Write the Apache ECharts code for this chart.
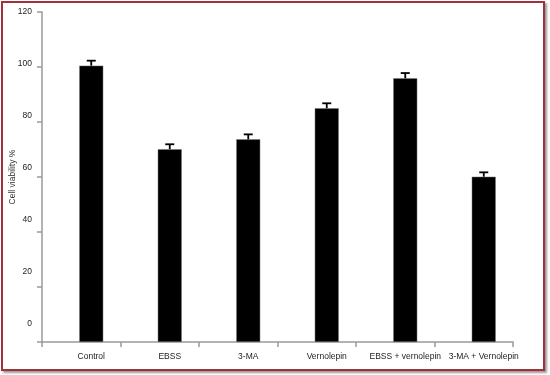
<!DOCTYPE html>
<html>
<head>
<meta charset="utf-8">
<script src="https://cdn.jsdelivr.net/npm/echarts@6/dist/echarts.min.js"></script>
<style>
html,body{margin:0;padding:0;background:#fff;}
#chart{position:absolute;left:0;top:0;width:550px;height:375px;}
#frame{position:absolute;left:1px;top:1px;width:540px;height:366px;border:2px solid #a0303a;box-shadow:2px 2px 2px #9a9a9a;pointer-events:none;}
</style>
</head>
<body>
<div id="chart"></div>
<div id="frame"></div>
<script>
const categories = ['Control', 'EBSS', '3-MA', 'Vernolepin', 'EBSS + vernolepin', '3-MA + Vernolepin'];
const viability = [100.5, 70.1, 73.7, 85.0, 95.9, 60.1];
const errors = [1.8, 1.8, 1.8, 1.8, 1.9, 1.6];
const yTickLabels = [0, 20, 40, 60, 80, 100, 120];
const yTitle = 'Cell viability %';

const chart = echarts.init(document.getElementById('chart'));
const font = 'Liberation Sans, Arial, sans-serif';
const axisGrey = '#9a9a9a';

chart.setOption({
  animation: false,
  grid: [
    {left: 52, right: 27, top: 12, bottom: 33},
    {left: 42, right: 37, top: 12, bottom: 33}
  ],
  xAxis: [
    {
      gridIndex: 0, type: 'category', data: categories,
      axisLine: {show: false}, axisTick: {show: false},
      axisLabel: {color: '#222', fontSize: 8.5, fontFamily: font, margin: 10, interval: 0}
    },
    {
      gridIndex: 1, type: 'category', data: categories.map(() => ''),
      axisLine: {show: true, lineStyle: {color: axisGrey, width: 1.5}},
      axisTick: {show: true, length: 5, lineStyle: {color: axisGrey, width: 1.5}},
      axisLabel: {show: false}
    }
  ],
  yAxis: [
    {
      gridIndex: 0, type: 'value', min: 0, max: 120, show: false
    },
    {
      gridIndex: 1, type: 'value', min: 0, max: 120, interval: 20,
      name: yTitle, nameLocation: 'middle', nameGap: 25,
      nameTextStyle: {color: '#333', fontSize: 8.5, fontFamily: font},
      axisLine: {show: true, lineStyle: {color: axisGrey, width: 1.5}},
      axisTick: {show: true, length: 5, lineStyle: {color: axisGrey, width: 1.5}},
      axisLabel: {show: false},
      splitLine: {show: false}
    },
    {
      gridIndex: 1, type: 'value', min: -6.9, max: 120, position: 'left',
      axisLine: {show: false}, axisTick: {show: false}, splitLine: {show: false},
      axisLabel: {color: '#222', fontSize: 8.5, fontFamily: font, margin: 10, customValues: yTickLabels}
    }
  ],
  series: [
    {
      type: 'bar', xAxisIndex: 0, yAxisIndex: 0,
      data: viability, barWidth: 24,
      itemStyle: {color: '#000', borderColor: '#777', borderWidth: 0.5}
    },
    {
      type: 'custom', xAxisIndex: 0, yAxisIndex: 0,
      data: viability.map((v, i) => [i, v, errors[i]]),
      renderItem: function (params, api) {
        const i = api.value(0), v = api.value(1), e = api.value(2);
        const p0 = api.coord([i, v]);
        const p1 = api.coord([i, v + e]);
        const hw = 4.5;
        const st = {stroke: '#000', lineWidth: 1.8};
        return {
          type: 'group',
          children: [
            {type: 'line', shape: {x1: p0[0], y1: p0[1], x2: p1[0], y2: p1[1]}, style: st},
            {type: 'line', shape: {x1: p1[0] - hw, y1: p1[1], x2: p1[0] + hw, y2: p1[1]}, style: st}
          ]
        };
      },
      z: 3
    }
  ]
});
</script>
</body>
</html>
